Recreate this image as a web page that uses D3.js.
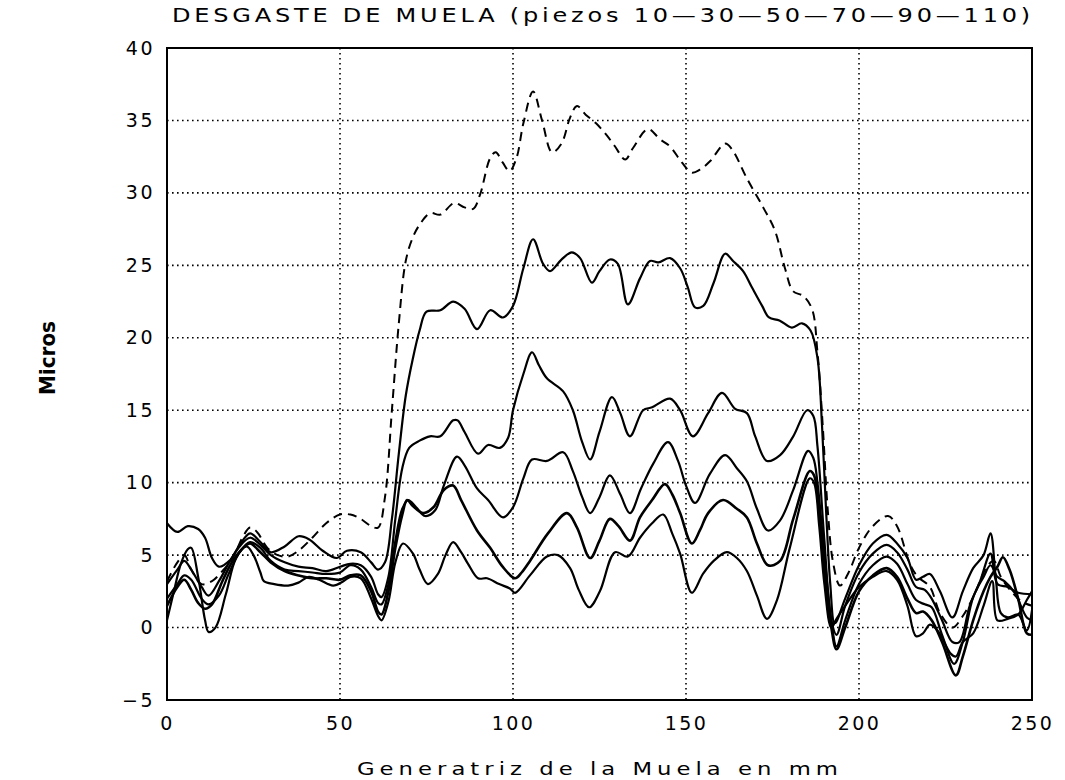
<!DOCTYPE html>
<html>
<head>
<meta charset="utf-8">
<script src="https://cdn.jsdelivr.net/npm/d3@7"></script>
<style>
  body { margin: 0; background: #fff; }
  svg { display: block; }
</style>
</head>
<body>
<svg width="1065" height="780"></svg>
<script>
// tick labels
const xTicks = [0, 50, 100, 150, 200, 250];
const yTicks = [-5, 0, 5, 10, 15, 20, 25, 30, 35, 40];

// measured profiles, [mm, micras]
const p110 = [[0,3.2],[3,4.5],[5,5.0],[7,4.0],[10,3.0],[13,3.2],[16,3.9],[19,4.8],[22,6.3],[24,6.9],[26,6.6],[29,5.5],[32,5.0],[35,4.9],[38,5.3],[42,6.2],[46,7.2],[50,7.8],[53,7.8],[56,7.5],[59,7.0],[61,6.9],[63,9],[65,15],[67,21],[69,25.3],[71,26.9],[73,27.8],[76,28.6],[79,28.5],[83,29.3],[86,29.0],[88.5,28.9],[90.5,29.9],[93.4,32.4],[95,32.8],[97,32.1],[99,31.5],[101,32.4],[103,34.8],[105.8,37.0],[108.4,35.0],[111.3,32.8],[114,33.4],[116.5,35.2],[118.5,36.0],[121,35.4],[124,34.8],[127,34.0],[129.5,33.2],[132.4,32.3],[134.7,33.1],[139,34.4],[142.5,33.7],[145.4,33.2],[148.8,32.1],[151.7,31.4],[154,31.6],[157,32.2],[161.3,33.4],[163.3,33.0],[167.6,31.0],[172.3,29.0],[175.7,27.4],[178.6,24.8],[181,23.2],[183.8,22.9],[186.4,22.0],[188,19],[189.5,14],[191,8],[192.5,4.5],[194.5,2.9],[197,3.8],[200,5.5],[204,7.0],[208.4,7.7],[211,7.0],[214.7,4.4],[217,3.5],[220.5,2.8],[223.4,1.0],[227,0.0],[230,0.8],[233,2.1],[237,4.2],[239,4.6],[241,3.5],[244,2.5],[247,1.8],[250,1.5]];

const p90 = [[0,7.2],[3,6.6],[6,7.0],[9,6.8],[11,6.2],[13,4.8],[15,4.2],[18,4.6],[21,5.7],[24,6.5],[27,5.9],[30,5.2],[34,5.6],[38,6.3],[41,6.1],[45,5.3],[49,4.8],[52,5.3],[56,5.2],[59,4.5],[61,4.0],[63,4.5],[65,7.5],[67,12],[69,16],[71,18.5],[73,20.5],[75,21.8],[79,21.9],[82.7,22.5],[86,22],[89.6,20.6],[93.4,21.9],[97.1,21.4],[100,22.2],[103,24.8],[105.8,26.8],[108.7,25.1],[110.7,24.6],[114,25.4],[117,25.9],[119.4,25.5],[122.8,23.8],[125,24.6],[128,25.4],[130.3,25.1],[133.2,22.3],[136.7,24.1],[139.6,25.3],[142,25.2],[145.4,25.5],[148.3,24.8],[150.5,23.5],[152.6,22.1],[155,22.2],[158,23.8],[161.3,25.8],[163.6,25.3],[166.5,24.6],[169,23.5],[172,22.2],[174,21.4],[177,21.2],[180.6,20.7],[183.5,21.0],[186,20.5],[188,18.6],[189.3,14],[190.5,8],[191.7,3],[193,0.3],[196,2.0],[200,4.3],[204,5.8],[208,6.4],[211,5.8],[214,4.8],[216.5,3.3],[218.5,3.5],[220.5,3.7],[223.4,2.5],[227,0.7],[230,2.5],[233,4.1],[236,5.0],[238,6.5],[239.5,3.5],[241,1.0],[243,0.7],[246,0.9],[248.5,-0.2],[250,1.2]];

const p70 = [[0,3.0],[3,4.0],[5,4.6],[7,4.0],[10,2.8],[12,2.2],[15,3.2],[18,4.5],[21,5.6],[24,6.2],[27,5.7],[30,5.0],[34,4.5],[38,4.2],[42,4.1],[46,3.9],[50,4.2],[53,4.4],[56,4.3],[59,3.5],[61,2.3],[62,2.1],[64,3.5],[66,7.5],[68,11.0],[70,12.4],[73,12.9],[76,13.2],[79,13.2],[82.7,14.3],[84,14.3],[86,13.5],[89.9,12.0],[92.8,12.6],[96.2,12.4],[98.6,13.1],[100,15.0],[103,17.5],[105.5,19.0],[107.5,18.1],[109.8,17.2],[114.5,16.3],[117.3,15.0],[120,12.8],[122.3,11.6],[125,13.5],[128.6,15.9],[131,14.8],[133.8,13.2],[137.6,15.0],[140.2,15.2],[145.4,15.8],[148.3,15.0],[152,13.2],[156.4,14.8],[160.4,16.2],[164.2,15.1],[167.6,14.8],[170,13.2],[173.4,11.5],[177.2,11.9],[181,13.2],[185,15.0],[186.8,14.6],[188,12.5],[190,6],[192,0.5],[193.5,-0.5],[196,1.5],[200,3.8],[204,5.1],[208,5.7],[211,5.2],[214,4.0],[216.5,2.8],[219,2.6],[221,2.0],[224,0.5],[227,-1.0],[229,-1.0],[232,1.5],[235,3.2],[238,5.1],[240,3.0],[243,2.8],[246,2.4],[250,2.3]];

const p50 = [[0,2.0],[3,3.0],[5,3.6],[7,3.3],[10,2.0],[12,1.6],[15,2.2],[18,3.8],[21,5.2],[24,5.9],[27,5.5],[30,4.6],[34,4.0],[38,3.9],[42,3.8],[46,3.7],[50,3.8],[53,4.3],[56,4.0],[59,2.8],[61,1.7],[62,1.6],[64,3],[66,6],[68,8.2],[69.7,8.8],[72,8.3],[74.6,7.7],[77.5,8.1],[80,9.8],[83.8,11.8],[86,11.2],[89.6,9.6],[92.8,8.8],[97.1,7.6],[100,8.3],[103,10.3],[105.5,11.6],[109.8,11.5],[114.5,12.1],[117.3,10.8],[120,9.0],[122.3,7.9],[125,9.0],[128,10.5],[131,9.2],[133.8,7.9],[137,9.6],[140.5,11.3],[144.8,12.8],[147.7,11.5],[150,9.8],[152.6,8.6],[156.9,10.6],[161.3,11.9],[164.7,11.0],[167.6,10.1],[170.5,8.2],[173.7,6.7],[177.2,7.4],[181,9.5],[185.3,12.2],[186.8,11.7],[188,10],[190,5],[192,0.5],[193.5,-1.3],[196,0.5],[200,3.0],[204,4.3],[208,4.9],[211,4.4],[214,3.0],[216.5,1.9],[219,1.6],[221,1.4],[224,-0.5],[227.5,-2.5],[230,-1.0],[233,2.1],[236,3.5],[238,4.3],[240,3.5],[242,3.2],[245,2.4],[248.5,0.7],[250,0.5]];

const p30 = [[0,1.5],[3,2.8],[5,3.3],[7,2.6],[9,1.7],[11,1.3],[13,1.6],[16,3.2],[19,4.6],[22,5.5],[24,5.8],[27,5.2],[30,4.5],[34,3.9],[38,3.6],[42,3.4],[46,3.4],[50,3.3],[53,3.6],[56,3.6],[59,2.5],[61,1.1],[62,0.9],[64,2.5],[66,5.5],[68,7.8],[69.4,8.8],[71,8.4],[74,7.9],[77,8.3],[80,9.5],[82.7,9.8],[85,8.8],[89.6,6.7],[93.4,5.5],[97,4.2],[100.6,3.4],[102.5,3.8],[104.9,4.6],[110.1,6.5],[115.6,7.9],[118.5,6.9],[122.3,4.8],[125,6.0],[128,7.5],[130.5,7.0],[133.8,6.0],[136.7,7.6],[140.2,8.8],[143.9,9.9],[146,9.2],[148.3,7.9],[151.7,5.8],[154,6.7],[156.4,7.9],[160.7,8.8],[164.7,8.2],[167.6,7.6],[170.5,5.8],[173.7,4.3],[177.2,4.6],[181,7.5],[185.8,10.8],[187,10.5],[188.5,8],[190,4],[192,0],[193.5,-1.5],[196,0.0],[200,2.5],[204,3.6],[208,4.1],[211,3.5],[214,2.0],[216.5,1.0],[218.5,1.1],[221,0.5],[224,-1.0],[228,-3.3],[230,-2.0],[233,0.5],[236,2.5],[238,3.5],[240,4.2],[241.6,4.85],[243.5,4.0],[246,2.0],[248.5,-0.4],[250,-0.5]];

const p10 = [[0,0.5],[2,2.5],[4,4.4],[6,5.4],[7,5.5],[9,3.5],[11,0.5],[12,-0.3],[14,0.0],[17,2.3],[20,4.8],[23,5.6],[25,5.0],[27,3.8],[28,3.2],[31,3.0],[35,2.9],[38,3.1],[41,3.5],[44,3.3],[48,2.9],[51,3.2],[53,3.5],[56,3.4],[59,2.0],[61,0.8],[62,0.5],[64,1.8],[66,4.5],[68.2,5.8],[71.1,5.1],[73,4.0],[75.4,3.0],[78.3,3.7],[80.5,5.0],[82.7,5.9],[85,5.2],[87,4.4],[89.9,3.4],[92.5,3.4],[96,3.0],[99.1,2.7],[100.6,2.4],[104.9,3.6],[109.8,4.9],[113,5.0],[116.5,4.1],[119,2.6],[122,1.4],[125.1,2.5],[129.5,5.2],[133.2,4.9],[136.7,6.2],[140.2,7.2],[143.4,7.8],[146,6.5],[148.3,5.1],[151.7,2.4],[154.9,3.7],[158,4.6],[161.8,5.2],[164.7,4.8],[167.6,3.9],[170.5,2.2],[173.4,0.6],[176.3,1.9],[180,5.5],[185.8,10.3],[187,10.0],[188.5,7],[190,3],[192,0],[193.5,0.6],[196,1.5],[200,2.8],[204,3.5],[208,3.9],[211,3.3],[214,1.5],[216.5,-0.6],[218.5,-0.4],[220.5,0.2],[223,-0.3],[226.5,-1.8],[228,-2.0],[230,-1.0],[233,-0.4],[236,1.5],[238.5,3.2],[240,0.5],[243,0.6],[246,0.9],[248.5,1.9],[250,2.5]];

const series = [
  { name: "piezo 10",  data: p10,  width: 2.2, dash: null },
  { name: "piezo 30",  data: p30,  width: 2.6, dash: null },
  { name: "piezo 50",  data: p50,  width: 2.2, dash: null },
  { name: "piezo 70",  data: p70,  width: 2.2, dash: null },
  { name: "piezo 90",  data: p90,  width: 2.2, dash: null },
  { name: "piezo 110", data: p110, width: 2.0, dash: "9,6" }
];

const svg = d3.select("svg");
const margin = { top: 48, right: 33, bottom: 80, left: 167 };
const width = 1065 - margin.left - margin.right,
      height = 780 - margin.top - margin.bottom;

svg.append("rect").attr("width", 1065).attr("height", 780).attr("fill", "#fff");

const g = svg.append("g").attr("transform", `translate(${margin.left},${margin.top})`);

const x = d3.scaleLinear().domain([0, 250]).range([0, width]);
const y = d3.scaleLinear().domain([-5, 40]).range([height, 0]);

const font = "'DejaVu Sans', sans-serif";

// dotted grid
g.append("g")
  .selectAll("line")
  .data(xTicks.slice(1, -1))
  .enter().append("line")
  .attr("x1", d => x(d)).attr("x2", d => x(d))
  .attr("y1", 0).attr("y2", height)
  .attr("stroke", "#000").attr("stroke-width", 1.6)
  .attr("stroke-dasharray", "1.6,3.4");

g.append("g")
  .selectAll("line")
  .data(yTicks.slice(1, -1))
  .enter().append("line")
  .attr("x1", 0).attr("x2", width)
  .attr("y1", d => y(d)).attr("y2", d => y(d))
  .attr("stroke", "#000").attr("stroke-width", 1.6)
  .attr("stroke-dasharray", "1.6,3.4");

// axes (labels only, the frame is drawn below)
const xAxis = g.append("g")
  .attr("transform", `translate(0,${height})`)
  .call(d3.axisBottom(x).tickValues(xTicks).tickSize(0).tickPadding(14).tickFormat(d3.format("d")));
const yAxis = g.append("g")
  .call(d3.axisLeft(y).tickValues(yTicks).tickSize(0).tickPadding(12)
    .tickFormat(d => d < 0 ? "\u2212" + Math.abs(d) : d));

[xAxis, yAxis].forEach(a => {
  a.select(".domain").remove();
  a.selectAll("text")
    .attr("fill", "#000")
    .style("font-family", font)
    .style("font-size", "19px")
    .style("letter-spacing", "2.5px");
});
xAxis.selectAll("text").attr("dy", "0.85em");

// curves
const line = d3.line()
  .x(d => x(d[0]))
  .y(d => y(d[1]))
  .curve(d3.curveCatmullRom.alpha(0.5));

g.append("g")
  .selectAll("path")
  .data(series)
  .enter().append("path")
  .attr("d", d => line(d.data))
  .attr("fill", "none")
  .attr("stroke", "#000")
  .attr("stroke-width", d => d.width)
  .attr("stroke-linejoin", "round")
  .attr("stroke-dasharray", d => d.dash);

// frame
g.append("rect")
  .attr("width", width).attr("height", height)
  .attr("fill", "none").attr("stroke", "#000").attr("stroke-width", 2);

// title and axis labels
svg.append("text")
  .attr("x", 603).attr("y", 22)
  .attr("text-anchor", "middle")
  .attr("textLength", 862).attr("lengthAdjust", "spacingAndGlyphs")
  .style("font-family", font).style("font-size", "19px")
  .style("letter-spacing", "3px")
  .text("DESGASTE DE MUELA (piezos 10\u201430\u201450\u201470\u201490\u2014110)");

svg.append("text")
  .attr("x", 600).attr("y", 775)
  .attr("text-anchor", "middle")
  .attr("textLength", 486).attr("lengthAdjust", "spacingAndGlyphs")
  .style("font-family", font).style("font-size", "18px")
  .style("letter-spacing", "4px")
  .text("Generatriz de la Muela en mm");

svg.append("text")
  .attr("transform", "translate(55,358) rotate(-90)")
  .attr("text-anchor", "middle")
  .attr("textLength", 74).attr("lengthAdjust", "spacingAndGlyphs")
  .style("font-family", "'DejaVu Sans Condensed', 'DejaVu Sans', sans-serif")
  .style("font-weight", "bold").style("font-size", "22px")
  .text("Micros");
</script>
</body>
</html>
